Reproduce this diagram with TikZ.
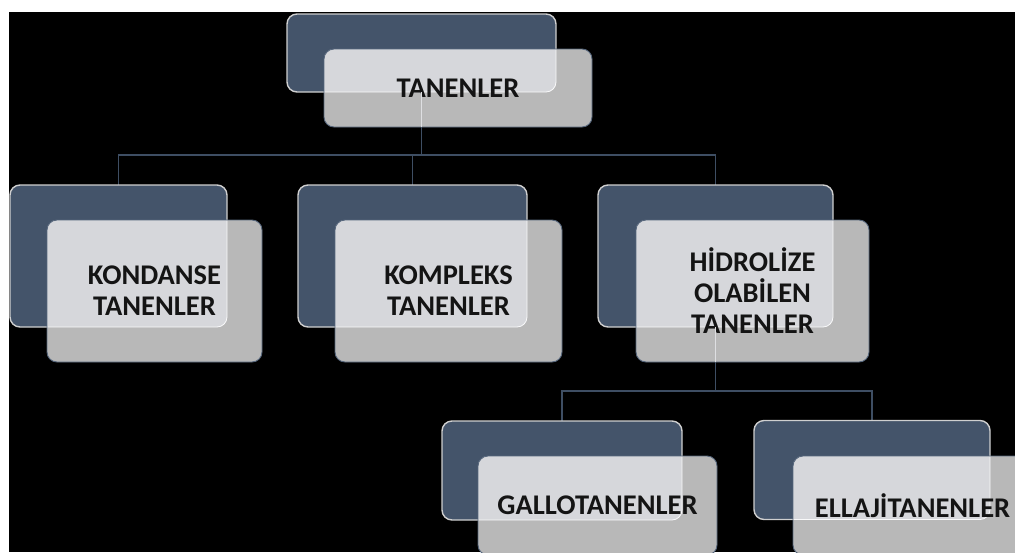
\documentclass[tikz,border=0pt]{standalone}
\usepackage{fontspec}
\setmainfont{Carlito}
\usetikzlibrary{backgrounds}
\definecolor{slate}{HTML}{44546A}
\definecolor{ltgray}{HTML}{B8B8B8}
\definecolor{ltov}{HTML}{D6D7DB}
\definecolor{dkedge}{HTML}{CFCFCF}
\definecolor{ltedge}{HTML}{56667C}
\definecolor{connc}{HTML}{3E4E63}
\definecolor{connin}{HTML}{DEDFE2}
\definecolor{txt}{HTML}{141414}
\begin{document}
\begin{tikzpicture}[x=1pt,y=-1pt,
  dkbox/.style={draw=dkedge, line width=1.4pt, fill=slate, rounded corners=10pt,
    inner sep=0pt, outer sep=0pt},
  ltbox/.style={draw=ltedge, line width=0.9pt, fill=ltgray, rounded corners=10pt,
    inner sep=0pt, outer sep=0pt, align=center, text=txt,
    font=\fontsize{28.5}{31}\selectfont\bfseries,
    path picture={\filldraw[fill=ltov, draw=white!85!ltov, line width=0.8pt, rounded corners=10pt]
      (#1.south west) rectangle (#1.north east);}},
  conn/.style={draw=connc, line width=1.6pt},
  conninner/.style={draw=connin, line width=1.4pt}
]
\useasboundingbox (0,0) rectangle (1015,552);
\clip (9,12) rectangle (1015,552);

% bus coordinates
\coordinate (bus1) at (0,155);
\coordinate (bus2) at (0,391);

% dark boxes
\node[dkbox, minimum width=269pt, minimum height=78pt] (t) at (421.5,53) {};
\node[dkbox, minimum width=217pt, minimum height=142pt] (a) at (118.5,256) {};
\node[dkbox, minimum width=229pt, minimum height=142pt] (b) at (412.5,256) {};
\node[dkbox, minimum width=235pt, minimum height=142pt] (c) at (715.5,256) {};
\node[dkbox, minimum width=240pt, minimum height=99pt] (d) at (562,470.5) {};
\node[dkbox, minimum width=236pt, minimum height=99pt] (e) at (872,470) {};

% background and connectors (behind boxes)
\begin{scope}[on background layer]
\fill[white] (0,0) rectangle (1015,552);
\fill[black] (9,12) rectangle (1015,552);
\draw[conn] (t.south) -- (t.south |- bus1);
\draw[conn] (a.north) -- (a.north |- bus1) -- (c.north |- bus1) -- (c.north);
\draw[conn] (b.north) -- (b.north |- bus1);
\draw[conn] (c.south) -- (c.south |- bus2);
\draw[conn] (d.north) -- (d.north |- bus2) -- (e.north |- bus2) -- (e.north);
\end{scope}

% light boxes with text
\node[ltbox=t, minimum width=268pt, minimum height=78pt] (tl) at (458,88) {TANENLER};
\node[ltbox=a, minimum width=215pt, minimum height=142pt] (al) at (154.5,291) {KONDANSE\\TANENLER};
\node[ltbox=b, minimum width=227pt, minimum height=142pt] (bl) at (448.5,291) {KOMPLEKS\\TANENLER};
\node[ltbox=c, minimum width=233pt, minimum height=142pt] (cl) at (752.5,291) {HİDROLİZE\\OLABİLEN\\TANENLER};
\node[ltbox=d, minimum width=239pt, minimum height=99pt] (dl) at (597.5,505.5) {GALLOTANENLER};
\node[ltbox=e, minimum width=239pt, minimum height=99pt] (el) at (912.5,505.5) {ELLAJİTANENLER};

% connector parts seen through the light boxes
\draw[conninner] (t.south) -- (t.south |- tl.south);
\draw[conninner] (c.south) -- (c.south |- cl.south);
\end{tikzpicture}
\end{document}
